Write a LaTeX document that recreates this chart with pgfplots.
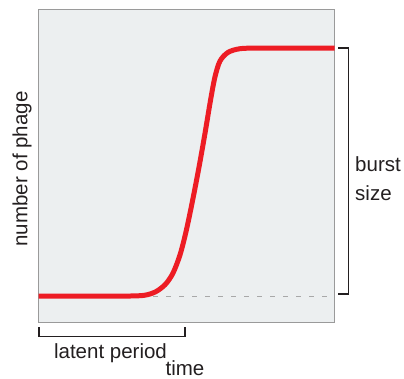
\documentclass[border=0pt]{standalone}
\usepackage{pgfplots}
\pgfplotsset{compat=1.18}
\usepackage{fontspec}
\setmainfont{Liberation Sans}
\definecolor{curvered}{HTML}{ED1C24}
\definecolor{panel}{HTML}{ECEFF0}
\definecolor{frame}{HTML}{9A9A9A}
\definecolor{dashgray}{HTML}{A8A8A8}
\definecolor{ink}{HTML}{231F20}

\begin{document}
\begin{tikzpicture}[x=1pt,y=1pt]
\useasboundingbox (0,0) rectangle (404,378);
\begin{axis}[
    at={(38.5pt,56pt)}, anchor=south west,
    scale only axis,
    width=296pt, height=312pt,
    xmin=0, xmax=100, ymin=0, ymax=100,
    xtick=\empty, ytick=\empty,
    axis background/.style={fill=panel},
    axis line style={draw=frame, line width=1pt},
]
% baseline reference
\addplot[dashgray, line width=1pt, dash pattern=on 5pt off 8pt]
    coordinates {(38.7,8.33) (98.5,8.33)};
% one-step growth curve
\addplot[curvered, line width=5pt, smooth, tension=0.5]
    coordinates {
    (0,8.33) (20,8.33) (30.9,8.33) (36.0,8.6) (39.6,9.7) (42.8,12.0)
    (45.4,15.6) (47.8,21.5) (49.8,28.8) (51.9,38.2) (54.1,49.0)
    (56.2,60.2) (58.1,71.0) (59.6,78.5) (61.3,83.6) (64.0,86.4)
    (68.1,87.6) (74.8,87.8) (90,87.8) (100,87.8)
    };
\end{axis}
\fontsize{20.5}{24}\selectfont
% burst size bracket
\draw[ink, line width=1.2pt] (338,330) -- (348.5,330) -- (348.5,84) -- (338,84);
% latent period bracket
\draw[ink, line width=1.2pt] (39,51) -- (39,41.5) -- (185,41.5) -- (185,51);
\node[anchor=base west, inner sep=0pt, text=ink] at (355,206) {burst};
\node[anchor=base west, inner sep=0pt, text=ink] at (355,178) {size};
\node[anchor=base, inner sep=0pt, text=ink] at (110.5,20) {latent period};
\node[anchor=base, inner sep=0pt, text=ink] at (185,3) {time};
\node[rotate=90, inner sep=0pt, text=ink] at (22,209) {number of phage};
\end{tikzpicture}
\end{document}
